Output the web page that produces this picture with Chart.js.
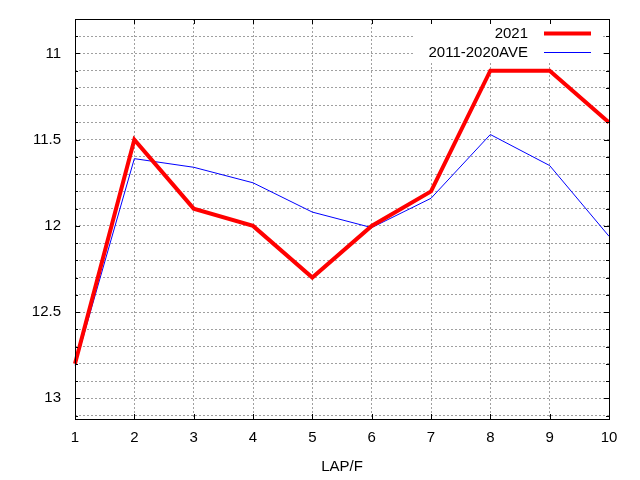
<!DOCTYPE html>
<html>
<head>
<meta charset="utf-8">
<script src="https://cdn.jsdelivr.net/npm/chart.js@4/dist/chart.umd.min.js"></script>
<style>
html,body{margin:0;padding:0;background:#fff;}
#wrap{width:640px;height:480px;position:relative;}
</style>
</head>
<body>
<div id="wrap"><canvas id="c" width="640" height="480"></canvas></div>
<script>
const laps = [1, 2, 3, 4, 5, 6, 7, 8, 9, 10];
const series2021 = [12.80, 11.50, 11.90, 12.00, 12.30, 12.00, 11.80, 11.10, 11.10, 11.40];
const seriesAve = [12.81, 11.61, 11.66, 11.75, 11.92, 12.01, 11.84, 11.47, 11.65, 12.06];
const seriesNames = ['2021', '2011-2020AVE'];
const yTickValues = [10.8, 10.9, 11.0, 11.1, 11.2, 11.3, 11.4, 11.5, 11.6, 11.7, 11.8, 11.9,
                     12.0, 12.1, 12.2, 12.3, 12.4, 12.5, 12.6, 12.7, 12.8, 12.9, 13.0, 13.1];
const yTickLabels = ['11', '11.5', '12', '12.5', '13'];
const xTitle = 'LAP/F';
const yMin = 10.8, yMax = 13.12;

const FONT = '"Liberation Sans", Arial, sans-serif';
const GRID = '#a0a0a0';

function isMajor(v) {
  return yTickLabels.some(l => Math.abs(parseFloat(l) - v) < 1e-6);
}

const framePlugin = {
  id: 'frame',
  beforeDatasetsDraw(chart) {
    const ctx = chart.ctx;
    const a = chart.chartArea;
    ctx.save();
    ctx.fillStyle = '#fff';
    ctx.fillRect(413, a.top + 1, 189, 41);
    ctx.font = '15px ' + FONT;
    ctx.textAlign = 'right';
    ctx.textBaseline = 'middle';
    const rowsY = [33.5, 52.5];
    chart.data.datasets.forEach((ds, i) => {
      ctx.fillStyle = '#000';
      ctx.fillText(ds.label, 528, rowsY[i]);
      ctx.strokeStyle = ds.borderColor;
      ctx.lineWidth = ds.borderWidth;
      ctx.beginPath();
      ctx.moveTo(544, rowsY[i]);
      ctx.lineTo(591, rowsY[i]);
      ctx.stroke();
    });
    ctx.restore();
  },
  afterDatasetsDraw(chart) {
    const ctx = chart.ctx;
    const a = chart.chartArea;
    const xs = chart.scales.x, ys = chart.scales.y;
    ctx.save();
    ctx.strokeStyle = '#000';
    ctx.lineWidth = 1;
    ctx.beginPath();
    yTickValues.forEach(v => {
      const py = Math.round(ys.getPixelForValue(v)) + 0.5;
      const len = isMajor(v) ? 5 : 3;
      ctx.moveTo(a.left, py); ctx.lineTo(a.left + len, py);
      ctx.moveTo(a.right, py); ctx.lineTo(a.right - len, py);
    });
    laps.forEach((l, i) => {
      const px = Math.round(xs.getPixelForValue(i)) + 0.5;
      ctx.moveTo(px, a.bottom); ctx.lineTo(px, a.bottom - 5);
      ctx.moveTo(px, a.top); ctx.lineTo(px, a.top + 5);
    });
    ctx.stroke();
    ctx.strokeRect(Math.round(a.left) + 0.5, Math.round(a.top) + 0.5,
                   Math.round(a.right - a.left), Math.round(a.bottom - a.top));
    ctx.restore();
  }
};

new Chart(document.getElementById('c'), {
  type: 'line',
  data: {
    labels: laps,
    datasets: [
      {
        label: seriesNames[0],
        data: series2021,
        borderColor: '#ff0000',
        borderWidth: 4,
        pointRadius: 0,
        tension: 0,
        fill: false,
        order: 1
      },
      {
        label: seriesNames[1],
        data: seriesAve,
        borderColor: '#0000ff',
        borderWidth: 1,
        pointRadius: 0,
        tension: 0,
        fill: false,
        order: 2
      }
    ]
  },
  options: {
    responsive: false,
    animation: false,
    devicePixelRatio: 1,
    layout: { padding: { top: 19, right: 31, left: 0, bottom: 0 } },
    plugins: { legend: { display: false }, tooltip: { enabled: false } },
    scales: {
      x: {
        type: 'category',
        offset: false,
        grid: { color: GRID, drawTicks: false, lineWidth: 1 },
        border: { display: false, dash: [2, 2] },
        ticks: { color: '#000', font: { family: FONT, size: 15 }, padding: 10, maxRotation: 0, autoSkip: false },
        title: { display: true, text: xTitle, color: '#000', font: { family: FONT, size: 15 }, padding: { top: 0, bottom: 4 } },
        afterFit(s) { s.height = 61; s.paddingLeft = 0; s.paddingRight = 0; }
      },
      y: {
        type: 'linear',
        reverse: true,
        min: yMin,
        max: yMax,
        afterBuildTicks(s) { s.ticks = yTickValues.map(v => ({ value: v })); },
        grid: { color: GRID, drawTicks: false, lineWidth: 1 },
        border: { display: false, dash: [2, 2] },
        ticks: {
          color: '#000',
          font: { family: FONT, size: 15 },
          padding: 14,
          autoSkip: false,
          callback(v) {
            const l = yTickLabels.find(t => Math.abs(parseFloat(t) - v) < 1e-6);
            return l === undefined ? '' : l;
          }
        },
        afterFit(s) { s.width = 75; s.paddingTop = 0; s.paddingBottom = 0; }
      }
    }
  },
  plugins: [framePlugin]
});
</script>
</body>
</html>
